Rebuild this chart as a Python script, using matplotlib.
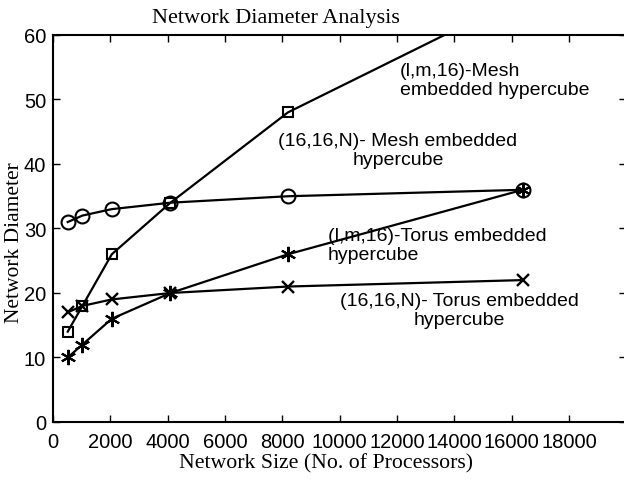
import numpy as np
import matplotlib
matplotlib.use("Agg")
import matplotlib.pyplot as plt

# network sizes (processors)
sizes = [512, 1024, 2048, 4096, 8192, 16384]

# network diameter for each scheme
mesh_lm16 = [14, 18, 26, 34, 48, 66]
mesh_1616n = [31, 32, 33, 34, 35, 36]
torus_lm16 = [10, 12, 16, 20, 26, 36]
torus_1616n = [17, 18, 19, 20, 21, 22]

xticks = list(range(0, 18001, 2000))
yticks = list(range(0, 61, 10))

sans = "Liberation Sans"
serif = "Liberation Serif"

fig = plt.figure(figsize=(6.24, 4.89), dpi=100)
ax = fig.add_axes([0.085, 0.135, 0.919, 0.7914])

lw = 1.6
ax.plot(sizes, mesh_lm16, color="black", lw=lw, marker="s", ms=7.5,
        mfc="none", mew=1.5)
ax.plot(sizes, mesh_1616n, color="black", lw=lw, marker="o", ms=10,
        mfc="none", mew=1.5)
ax.plot(sizes, torus_lm16, color="black", lw=lw, marker=(6, 2, 0), ms=11,
        mew=1.5)
ax.plot(sizes, torus_1616n, color="black", lw=lw, marker="x", ms=8,
        mew=1.7)

ax.set_xlim(0, 20000)
ax.set_ylim(0, 60)
ax.set_xticks(xticks)
ax.set_yticks(yticks)
ax.set_xticklabels([str(t) for t in xticks], fontfamily=sans, fontsize=14.5)
ax.set_yticklabels([str(t) for t in yticks], fontfamily=sans, fontsize=14.5)
ax.tick_params(direction="in", length=5, width=1, top=True, right=True)
ax.tick_params(axis="x", pad=7)
ax.tick_params(axis="y", pad=5)
for s in ax.spines.values():
    s.set_linewidth(1.5)

tkw = dict(fontfamily=sans, fontsize=14, linespacing=1.15, va="center")
ax.text(12100, 53.0, "(l,m,16)-Mesh\nembedded hypercube", ha="left",
        multialignment="left", **tkw)
ax.text(12030, 42.1, "(16,16,N)- Mesh embedded\nhypercube", ha="center",
        multialignment="center", **tkw)
ax.text(9590, 27.4, "(l,m,16)-Torus embedded\nhypercube", ha="left",
        multialignment="left", **tkw)
ax.text(14160, 17.4, "(16,16,N)- Torus embedded\nhypercube", ha="center",
        multialignment="center", **tkw)

fig.text(276 / 624, 1 - 19 / 489, "Network Diameter Analysis", ha="center",
         va="center", fontfamily=serif, fontsize=16)
fig.text(326 / 624, 1 - 464 / 489, "Network Size (No. of Processors)",
         ha="center", va="center", fontfamily=serif, fontsize=15.7)
fig.text(15 / 624, 1 - 243 / 489, "Network Diameter", rotation=90,
         ha="center", va="center", fontfamily=serif, fontsize=15.5)

fig.savefig("out.png", dpi=100)
